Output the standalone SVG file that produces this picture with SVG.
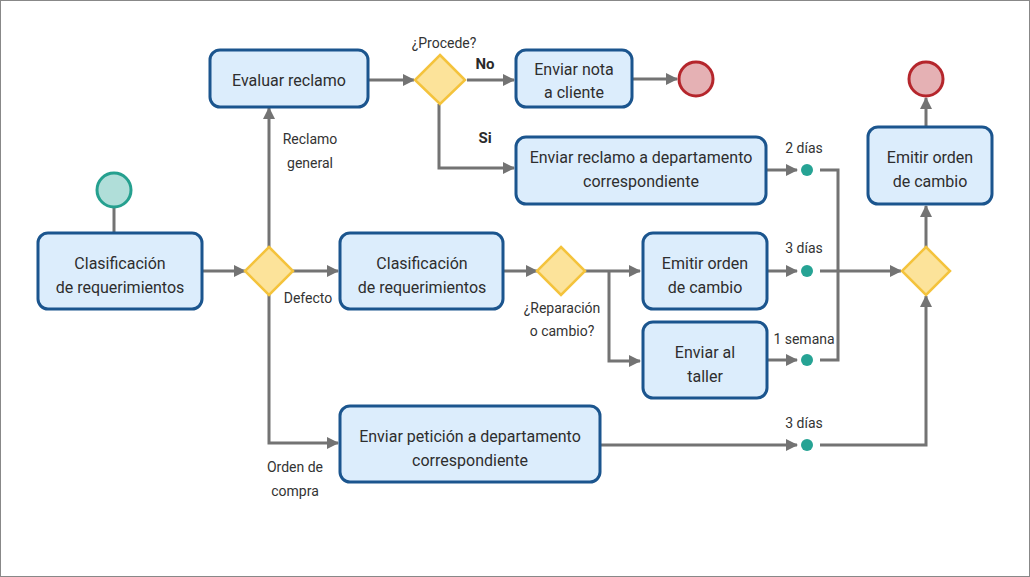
<svg xmlns="http://www.w3.org/2000/svg" width="1030" height="577" viewBox="0 0 1030 577">
<style>
.box{fill:#dcedfc;stroke:#1b558e;stroke-width:3}
.dia{fill:#fce39a;stroke:#f4c33c;stroke-width:2.5}
.t{font-family:Roboto,"Liberation Sans",sans-serif;font-size:16px;fill:#2e2e2e;text-anchor:middle}
.l{font-family:Roboto,"Liberation Sans",sans-serif;font-size:14px;fill:#333;text-anchor:middle}
.b{font-family:Roboto,"Liberation Sans",sans-serif;font-size:15px;font-weight:bold;fill:#2a2a2a;text-anchor:middle}
.c{fill:none;stroke:#737373;stroke-width:3}
.ca{fill:none;stroke:#737373;stroke-width:3;marker-end:url(#ah)}
.dot{fill:#26a394}
.end{fill:#e5b1b4;stroke:#b5262c;stroke-width:3}
.start{fill:#b0ded9;stroke:#25a08f;stroke-width:3}
</style>
<defs>
<marker id="ah" markerUnits="userSpaceOnUse" markerWidth="12" markerHeight="12" viewBox="0 0 12 12" refX="11" refY="6" orient="auto">
<path d="M0,0 L12,6 L0,12 Z" fill="#737373"/>
</marker>
</defs>
<rect x="0.5" y="0.5" width="1029" height="576" fill="#fff" stroke="#888" stroke-width="1"/>
<g id="connectors">
<path class="c" d="M114,207 V233"/>
<path class="ca" d="M202,271 H245"/>
<path class="ca" d="M269,247 V108"/>
<path class="ca" d="M293,271 H338"/>
<path class="ca" d="M269,295 V443 H338"/>
<path class="ca" d="M368,80 H414"/>
<path class="ca" d="M467,80 H514"/>
<path class="ca" d="M439,104 V168 H514"/>
<path class="ca" d="M632,79 H677"/>
<path class="ca" d="M766,170 H797"/>
<path class="c" d="M820,170 H838 V360 H820"/>
<path class="ca" d="M503,271 H537"/>
<path class="ca" d="M585,271 H640"/>
<path class="ca" d="M609,271 V361 H640"/>
<path class="ca" d="M767,271 H797"/>
<path class="ca" d="M767,360 H797"/>
<path class="ca" d="M820,271 H901"/>
<path class="ca" d="M600,445 H797"/>
<path class="ca" d="M820,445 H926 V296"/>
<path class="ca" d="M926,247 V206"/>
<path class="ca" d="M926,127 V98"/>
</g>
<g id="start"><circle class="start" cx="114" cy="190" r="17"/></g>
<g id="n1"><rect class="box" x="38" y="233" width="164" height="76" rx="10"/><text class="t" x="120" y="269">Clasificación</text><text class="t" x="120" y="293">de requerimientos</text></g>
<g id="g1"><path class="dia" d="M269,247 L293,271 L269,295 L245,271 Z"/></g>
<g id="lbl1"><text class="l" x="310" y="144">Reclamo</text><text class="l" x="310" y="168">general</text><text class="l" x="308" y="303">Defecto</text><text class="l" x="295" y="472">Orden de</text><text class="l" x="295" y="496">compra</text></g>
<g id="n2"><rect class="box" x="210" y="50" width="158" height="57" rx="10"/><text class="t" x="289" y="86">Evaluar reclamo</text></g>
<g id="g2"><path class="dia" d="M440,55 L465,80 L440,104 L415,80 Z"/><text class="l" x="444" y="48">¿Procede?</text><text class="b" x="485" y="69">No</text><text class="b" x="485" y="143">Si</text></g>
<g id="n3"><rect class="box" x="516" y="50" width="116" height="57" rx="10"/><text class="t" x="574" y="75">Enviar nota</text><text class="t" x="574" y="98">a cliente</text></g>
<g id="end1"><circle class="end" cx="696" cy="79" r="17"/></g>
<g id="n4"><rect class="box" x="516" y="137" width="250" height="67" rx="10"/><text class="t" x="641" y="163">Enviar reclamo a departamento</text><text class="t" x="641" y="187">correspondiente</text></g>
<g id="n5"><rect class="box" x="340" y="233" width="163" height="76" rx="10"/><text class="t" x="422" y="269">Clasificación</text><text class="t" x="422" y="293">de requerimientos</text></g>
<g id="g3"><path class="dia" d="M561,247 L585,271 L561,295 L537,271 Z"/><text class="l" x="562" y="313">¿Reparación</text><text class="l" x="562" y="336">o cambio?</text></g>
<g id="n6"><rect class="box" x="643" y="233" width="124" height="76" rx="10"/><text class="t" x="705" y="269">Emitir orden</text><text class="t" x="705" y="293">de cambio</text></g>
<g id="n7"><rect class="box" x="643" y="322" width="124" height="76" rx="10"/><text class="t" x="705" y="358">Enviar al</text><text class="t" x="705" y="382">taller</text></g>
<g id="n8"><rect class="box" x="340" y="406" width="260" height="76" rx="10"/><text class="t" x="470" y="442">Enviar petición a departamento</text><text class="t" x="470" y="466">correspondiente</text></g>
<g id="timers">
<circle class="dot" cx="807" cy="170" r="6"/><text class="l" x="804" y="153">2 días</text>
<circle class="dot" cx="807" cy="271" r="6"/><text class="l" x="804" y="253">3 días</text>
<circle class="dot" cx="807" cy="360" r="6"/><text class="l" x="804" y="344">1 semana</text>
<circle class="dot" cx="807" cy="445" r="6"/><text class="l" x="804" y="428">3 días</text>
</g>
<g id="g4"><path class="dia" d="M926,247 L950,271 L926,295 L902,271 Z"/></g>
<g id="n9"><rect class="box" x="868" y="127" width="124" height="77" rx="10"/><text class="t" x="930" y="163">Emitir orden</text><text class="t" x="930" y="187">de cambio</text></g>
<g id="end2"><circle class="end" cx="926" cy="79" r="17"/></g>
</svg>
